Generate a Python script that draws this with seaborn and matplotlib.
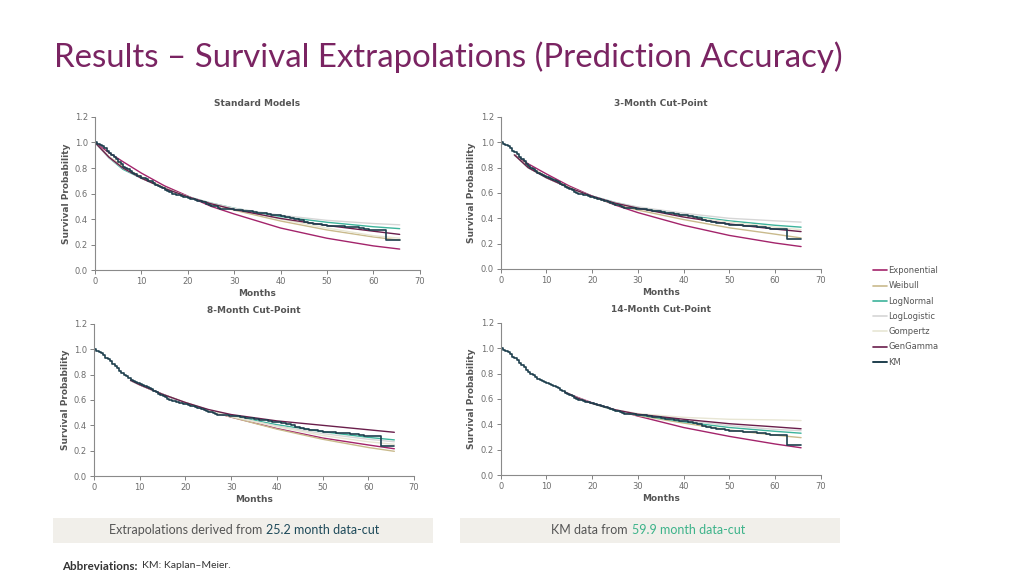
import matplotlib
matplotlib.use('Agg')
import matplotlib.pyplot as plt
from matplotlib.lines import Line2D
from matplotlib.patches import Rectangle
import pandas as pd
import seaborn as sns

# Model names and colours
models = ['Exponential', 'Weibull', 'LogNormal', 'LogLogistic', 'Gompertz', 'GenGamma']
colors = ['#A3246B', '#C9BA8C', '#3DB39B', '#D6D6D6', '#E8E6D4', '#6A1E4B']
km_color = '#1E3F4E'

# Kaplan-Meier (59.9 month data-cut) - same in every panel
km_t = [0, 0.5, 1, 1.5, 2, 2.5, 3, 3.5, 4, 4.5, 5, 5.5, 6, 6.5, 7, 7.5, 8, 8.5, 9, 9.5,
        10, 10.5, 11, 11.5, 12, 12.5, 13, 13.5, 14, 14.5, 15, 15.5, 16, 16.5, 17, 17.5,
        18, 18.5, 19, 19.5, 20, 20.5, 21, 21.5, 22, 22.5, 23, 23.5, 24, 24.5, 25, 25.5,
        26, 26.5, 27, 27.5, 28, 28.5, 29, 29.5, 30, 31, 32, 33, 34, 35, 36, 37, 38, 39,
        40, 41, 42, 43, 44, 45, 46, 47, 48, 49, 50, 51, 52, 53, 54, 55, 56, 57, 58, 59,
        60, 61, 62, 62.7, 65.7]
km_s = [1.0, 0.99, 0.98, 0.97, 0.955, 0.93, 0.92, 0.905, 0.885, 0.87, 0.85, 0.83, 0.81,
        0.80, 0.79, 0.775, 0.76, 0.75, 0.74, 0.735, 0.725, 0.72, 0.71, 0.70, 0.695, 0.685,
        0.67, 0.66, 0.65, 0.64, 0.63, 0.62, 0.61, 0.60, 0.595, 0.59, 0.585, 0.58, 0.575,
        0.57, 0.565, 0.56, 0.555, 0.55, 0.545, 0.54, 0.535, 0.53, 0.52, 0.51, 0.505, 0.505,
        0.50, 0.49, 0.482, 0.482, 0.48, 0.48, 0.478, 0.475, 0.473, 0.47, 0.465, 0.46, 0.455,
        0.45, 0.445, 0.44, 0.435, 0.43, 0.425, 0.42, 0.41, 0.40, 0.39, 0.38, 0.372, 0.365,
        0.36, 0.352, 0.347, 0.345, 0.345, 0.343, 0.34, 0.337, 0.335, 0.33, 0.322, 0.318,
        0.315, 0.314, 0.313, 0.24, 0.24]

# Standard models
t_std = [0, 3, 6, 10, 15, 20, 25, 30, 40, 50, 60, 65.7]
std_vals = {
    'Exponential': [1.0, 0.92, 0.85, 0.76, 0.66, 0.58, 0.50, 0.44, 0.33, 0.25, 0.19, 0.165],
    'Weibull':     [1.0, 0.89, 0.81, 0.73, 0.645, 0.575, 0.52, 0.47, 0.385, 0.315, 0.26, 0.235],
    'LogNormal':   [1.0, 0.88, 0.79, 0.72, 0.64, 0.575, 0.525, 0.485, 0.42, 0.375, 0.34, 0.325],
    'LogLogistic': [1.0, 0.88, 0.80, 0.72, 0.64, 0.575, 0.525, 0.485, 0.43, 0.39, 0.365, 0.355],
    'Gompertz':    [1.0, 0.89, 0.80, 0.72, 0.64, 0.575, 0.52, 0.475, 0.40, 0.33, 0.27, 0.25],
    'GenGamma':    [1.0, 0.885, 0.80, 0.72, 0.64, 0.575, 0.52, 0.475, 0.405, 0.35, 0.305, 0.28],
}

# 3-month cut-point
t_3m = [3, 6, 10, 15, 20, 25, 30, 40, 50, 60, 65.7]
m3_vals = {
    'Exponential': [0.90, 0.83, 0.75, 0.655, 0.575, 0.505, 0.445, 0.345, 0.265, 0.205, 0.177],
    'Weibull':     [0.90, 0.81, 0.73, 0.645, 0.57, 0.51, 0.465, 0.39, 0.325, 0.275, 0.245],
    'LogNormal':   [0.90, 0.80, 0.72, 0.64, 0.575, 0.525, 0.485, 0.425, 0.38, 0.345, 0.33],
    'LogLogistic': [0.90, 0.80, 0.72, 0.64, 0.575, 0.525, 0.49, 0.44, 0.40, 0.38, 0.37],
    'Gompertz':    [0.90, 0.80, 0.72, 0.64, 0.57, 0.52, 0.48, 0.42, 0.37, 0.33, 0.31],
    'GenGamma':    [0.90, 0.80, 0.72, 0.64, 0.575, 0.52, 0.48, 0.41, 0.355, 0.315, 0.295],
}

# 8-month cut-point
t_8m = [8, 10, 15, 20, 25, 30, 40, 50, 60, 65.7]
m8_vals = {
    'Exponential': [0.755, 0.72, 0.645, 0.575, 0.515, 0.465, 0.375, 0.30, 0.245, 0.215],
    'Weibull':     [0.755, 0.72, 0.645, 0.58, 0.52, 0.465, 0.37, 0.29, 0.225, 0.195],
    'LogNormal':   [0.755, 0.72, 0.645, 0.575, 0.52, 0.475, 0.405, 0.35, 0.305, 0.285],
    'LogLogistic': [0.755, 0.72, 0.645, 0.575, 0.52, 0.47, 0.395, 0.335, 0.29, 0.27],
    'Gompertz':    [0.755, 0.72, 0.645, 0.58, 0.52, 0.47, 0.39, 0.32, 0.27, 0.25],
    'GenGamma':    [0.755, 0.72, 0.645, 0.58, 0.525, 0.485, 0.435, 0.40, 0.365, 0.345],
}

# 14-month cut-point
t_14m = [14, 17, 20, 25, 30, 40, 50, 60, 65.7]
m14_vals = {
    'Exponential': [0.655, 0.61, 0.57, 0.515, 0.465, 0.375, 0.305, 0.245, 0.215],
    'Weibull':     [0.655, 0.605, 0.565, 0.51, 0.47, 0.41, 0.355, 0.315, 0.295],
    'LogNormal':   [0.655, 0.605, 0.565, 0.51, 0.475, 0.42, 0.375, 0.345, 0.33],
    'LogLogistic': [0.655, 0.605, 0.565, 0.515, 0.48, 0.43, 0.39, 0.36, 0.35],
    'Gompertz':    [0.655, 0.605, 0.565, 0.515, 0.485, 0.455, 0.44, 0.435, 0.43],
    'GenGamma':    [0.655, 0.605, 0.565, 0.515, 0.48, 0.44, 0.405, 0.38, 0.365],
}

panel_titles = ['Standard Models', '3-Month Cut-Point', '8-Month Cut-Point', '14-Month Cut-Point']
panel_data = [(t_std, std_vals), (t_3m, m3_vals), (t_8m, m8_vals), (t_14m, m14_vals)]
# left, bottom, width, height in figure fractions
panel_pos = [[0.0928, 0.531, 0.317, 0.266],
             [0.489, 0.533, 0.3125, 0.264],
             [0.0918, 0.1736, 0.3125, 0.264],
             [0.489, 0.1753, 0.3125, 0.264]]

sns.set_theme(style='white')
plt.rcParams['font.family'] = ['DejaVu Sans']

fig = plt.figure(figsize=(10.24, 5.76), dpi=100)
fig.patch.set_facecolor('white')

fig.text(0.053, 0.9, 'Results \u2013 Survival Extrapolations (Prediction Accuracy)',
         fontsize=23.8, color='#7A2462', family='Lato', va='center', ha='left')

tick_col = '#6d6d6d'
spine_col = '#8a8a8a'

for title, (tt, vals), pos in zip(panel_titles, panel_data, panel_pos):
    ax = fig.add_axes(pos)
    rows = []
    for m in models:
        for t, s in zip(tt, vals[m]):
            rows.append({'Months': t, 'Survival': s, 'Model': m})
    df = pd.DataFrame(rows)
    sns.lineplot(data=df, x='Months', y='Survival', hue='Model', hue_order=models,
                 palette=colors, estimator=None, sort=False, legend=False, lw=1.0, ax=ax)
    sns.lineplot(x=km_t, y=km_s, color=km_color, drawstyle='steps-post', estimator=None,
                 sort=False, lw=1.2, ax=ax)
    ax.set_xlim(0, 70)
    ax.set_ylim(0, 1.2)
    ax.set_xticks(range(0, 71, 10))
    ax.set_yticks([0.0, 0.2, 0.4, 0.6, 0.8, 1.0, 1.2])
    ax.set_yticklabels(['0.0', '0.2', '0.4', '0.6', '0.8', '1.0', '1.2'])
    ax.tick_params(axis='both', labelsize=6, colors=tick_col, length=3, width=0.6,
                   direction='out', bottom=True, left=True, pad=2)
    for sp in ['top', 'right']:
        ax.spines[sp].set_visible(False)
    for sp in ['left', 'bottom']:
        ax.spines[sp].set_color(spine_col)
        ax.spines[sp].set_linewidth(0.8)
    ax.set_xlabel('Months', fontsize=6.5, fontweight='bold', color='#555555', labelpad=2)
    ax.set_ylabel('Survival Probability', fontsize=6.5, fontweight='bold', color='#555555', labelpad=3)
    ax.set_title(title, fontsize=6.5, fontweight='bold', color='#555555', pad=8)
    ax.set_facecolor('white')

# Legend on the right
handles = [Line2D([0], [0], color=c, lw=1.2) for c in colors]
handles.append(Line2D([0], [0], color=km_color, lw=1.4))
leg = fig.legend(handles, models + ['KM'], loc='upper left', bbox_to_anchor=(0.848, 0.545),
                 frameon=False, fontsize=6, handlelength=1.7, handletextpad=0.2,
                 labelspacing=0.75, borderpad=0)
for txt in leg.get_texts():
    txt.set_color('#555555')

# Bottom boxes
fig.patches.append(Rectangle((0.052, 0.0573), 0.371, 0.0434, transform=fig.transFigure,
                             facecolor='#F1EFEA', edgecolor='none'))
fig.patches.append(Rectangle((0.449, 0.0573), 0.371, 0.0434, transform=fig.transFigure,
                             facecolor='#F1EFEA', edgecolor='none'))
fig.text(262 / 1024, 0.079, 'Extrapolations derived from', fontsize=9, family='Lato',
         color='#555555', ha='right', va='center')
fig.text(266 / 1024, 0.079, '25.2 month data-cut', fontsize=9, family='Lato',
         color='#1E4A5A', ha='left', va='center')
fig.text(628 / 1024, 0.079, 'KM data from', fontsize=9, family='Lato',
         color='#555555', ha='right', va='center')
fig.text(632 / 1024, 0.079, '59.9 month data-cut', fontsize=9, family='Lato',
         color='#3DB38A', ha='left', va='center')

fig.text(62 / 1024, 1 - 566 / 576, 'Abbreviations:', fontsize=8.3, fontweight='bold',
         family='Lato', color='#333333', ha='left', va='center')
fig.text(142 / 1024, 1 - 566 / 576, 'KM: Kaplan\u2013Meier.', fontsize=7.5,
         family='Lato', color='#333333', ha='left', va='center')

fig.savefig('out.png', dpi=100, facecolor='white')
